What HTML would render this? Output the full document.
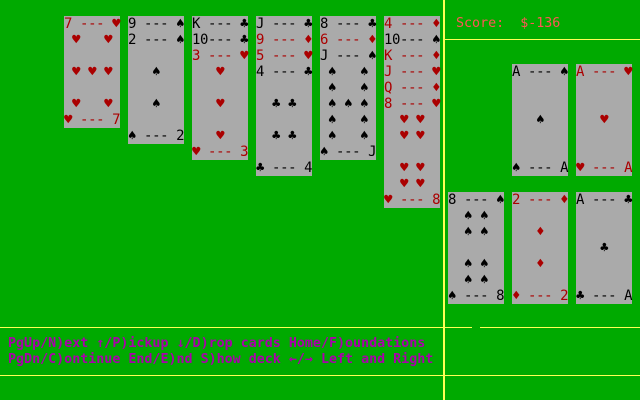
<!DOCTYPE html>
<html><head><meta charset="utf-8"><style>
html,body{margin:0;padding:0}
body{width:640px;height:400px;background:#00aa00;position:relative;overflow:hidden;font-family:"DejaVu Sans Mono","Liberation Mono",monospace}
.c{position:absolute;width:56px;background:#aaaaaa;white-space:pre;font-size:14px;letter-spacing:-0.4px;line-height:16px;color:#000}
.r{color:#aa0000}
.l{position:absolute;background:#ffff55}
.t{position:absolute;white-space:pre;font-size:13.33px;line-height:16px;font-weight:bold}
</style></head><body>
<div class="l" style="left:443px;top:0;width:2px;height:400px"></div>
<div class="l" style="left:445px;top:39px;width:195px;height:1px"></div>
<div class="l" style="left:0;top:327px;width:472px;height:1px"></div>
<div class="l" style="left:480px;top:327px;width:160px;height:1px"></div>
<div class="l" style="left:0;top:375px;width:640px;height:1px"></div>

<div class="c r" style="left:64px;top:16px;height:112px">7 --- ♥
 ♥   ♥

 ♥ ♥ ♥

 ♥   ♥
♥ --- 7</div>

<div class="c" style="left:128px;top:16px;height:128px">9 --- ♠
2 --- ♠

   ♠

   ♠

♠ --- 2</div>

<div class="c" style="left:192px;top:16px;height:144px">K --- ♣
10--- ♣
<span class="r">3 --- ♥
   ♥

   ♥

   ♥
♥ --- 3</span></div>

<div class="c" style="left:256px;top:16px;height:160px">J --- ♣
<span class="r">9 --- ♦
5 --- ♥</span>
4 --- ♣

  ♣ ♣

  ♣ ♣

♣ --- 4</div>

<div class="c" style="left:320px;top:16px;height:144px">8 --- ♣
<span class="r">6 --- ♦</span>
J --- ♠
 ♠   ♠
 ♠   ♠
 ♠ ♠ ♠
 ♠   ♠
 ♠   ♠
♠ --- J</div>

<div class="c r" style="left:384px;top:16px;height:192px">4 --- ♦
<span style="color:#000">10--- ♠</span>
K --- ♦
J --- ♥
Q --- ♦
8 --- ♥
  ♥ ♥
  ♥ ♥

  ♥ ♥
  ♥ ♥
♥ --- 8</div>

<div class="c" style="left:512px;top:64px;height:112px">A --- ♠


   ♠


♠ --- A</div>
<div class="c r" style="left:576px;top:64px;height:112px">A --- ♥


   ♥


♥ --- A</div>

<div class="c" style="left:448px;top:192px;height:112px">8 --- ♠
  ♠ ♠
  ♠ ♠

  ♠ ♠
  ♠ ♠
♠ --- 8</div>
<div class="c r" style="left:512px;top:192px;height:112px">2 --- ♦

   ♦

   ♦

♦ --- 2</div>
<div class="c" style="left:576px;top:192px;height:112px">A --- ♣


   ♣


♣ --- A</div>

<div class="t" style="left:456px;top:16px;color:#ff5555;font-weight:normal">Score:  $-136</div>
<div class="t" style="left:8px;top:336px;color:#aa00aa">PgUp/N)ext ↑/P)ickup ↓/D)rop cards Home/F)oundations
PgDn/C)ontinue End/E)nd S)how deck ←/→ Left and Right</div>
</body></html>
